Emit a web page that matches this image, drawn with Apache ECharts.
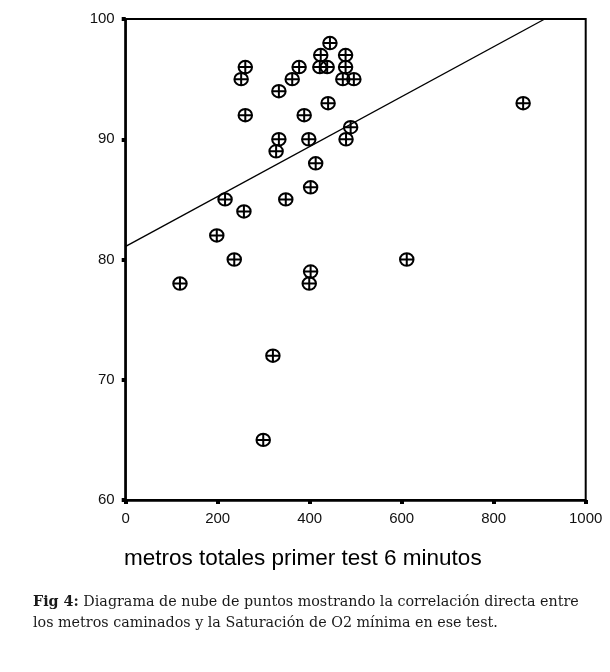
<!DOCTYPE html>
<html>
<head>
<meta charset="utf-8">
<script src="https://cdn.jsdelivr.net/npm/echarts@6/dist/echarts.min.js"></script>
<style>html,body{margin:0;padding:0;background:#fff;}#c{width:610px;height:672px;}</style>
</head>
<body>
<div id="c"></div>
<script>
// metros totales primer test 6 minutos
const metros = [118,198,236,216,257,251,260,260,299,320,327,333,333,348,362,377,388,398,402,402,399,413,424,422,438,440,444,472,478,478,479,489,496,611,864];
// Saturación O2 mínima
const saturacion = [78,82,80,85,84,95,96,92,65,72,89,90,94,85,95,96,92,90,86,79,78,88,97,96,96,93,98,95,97,96,90,91,95,80,93];
// regression line endpoints
const lineX = [0, 911];
const lineY = [81.1, 100];
const xTicks = [0,200,400,600,800,1000];
const yTicks = [60,70,80,90,100];
const xTitle = 'metros totales primer test 6 minutos';
const captionBold = 'Fig 4:';
const captionRest1 = ' Diagrama de nube de puntos mostrando la correlación directa entre';
const captionLine2 = 'los metros caminados y la Saturación de O2 mínima en ese test.';

const pts = metros.map((m,i)=>[m, saturacion[i]]);
const linePts = lineX.map((x,i)=>[x, lineY[i]]);
const sym = 'path://M0,-6A6,6 0 1,1 0,6A6,6 0 1,1 0,-6ZM-6,0L6,0M0,-6.5L0,6.5';

const chart = echarts.init(document.getElementById('c'), null, {renderer:'canvas'});
chart.setOption({
  animation:false,
  backgroundColor:'#fff',
  grid:{left:125.7, right:24.3, top:19, bottom:172, show:true, borderColor:'#000', borderWidth:2, backgroundColor:'transparent'},
  xAxis:{type:'value', min:xTicks[0], max:xTicks[xTicks.length-1], interval:200,
    axisLine:{show:true, onZero:false, lineStyle:{color:'#000', width:2.5}},
    axisTick:{show:true, length:4, lineStyle:{color:'#000', width:4}},
    axisLabel:{color:'#111', fontFamily:'Liberation Sans, Arial', fontSize:15, margin:11, formatter:v=>String(v)},
    splitLine:{show:false}},
  yAxis:{type:'value', min:yTicks[0], max:yTicks[yTicks.length-1], interval:10,
    axisLine:{show:true, onZero:false, lineStyle:{color:'#000', width:2.5}},
    axisTick:{show:true, length:4, lineStyle:{color:'#000', width:4}},
    axisLabel:{color:'#111', fontFamily:'Liberation Sans, Arial', fontSize:15, margin:11, formatter:v=>String(v)},
    splitLine:{show:false}},
  series:[
    {type:'line', data:linePts, showSymbol:false, symbol:'none', lineStyle:{color:'#000', width:1.4}, z:2, silent:true},
    {type:'scatter', data:pts, symbol:sym, symbolSize:13.5, itemStyle:{color:'transparent', borderColor:'#000', borderWidth:2, opacity:1}, z:3}
  ],
  graphic:[
    {type:'text', left:124, top:547, style:{text:xTitle, font:'22.5px "Liberation Sans", Arial', fill:'#000'}},
    {type:'text', left:33, top:592, style:{
      text:'{b|'+captionBold+'}'+captionRest1+'\n'+captionLine2,
      font:'14.3px "DejaVu Serif"', fill:'#1a1a1a', lineHeight:21,
      rich:{b:{font:'bold 14.3px "DejaVu Serif"', fill:'#1a1a1a', lineHeight:21}}
    }}
  ]
});
</script>
</body>
</html>
